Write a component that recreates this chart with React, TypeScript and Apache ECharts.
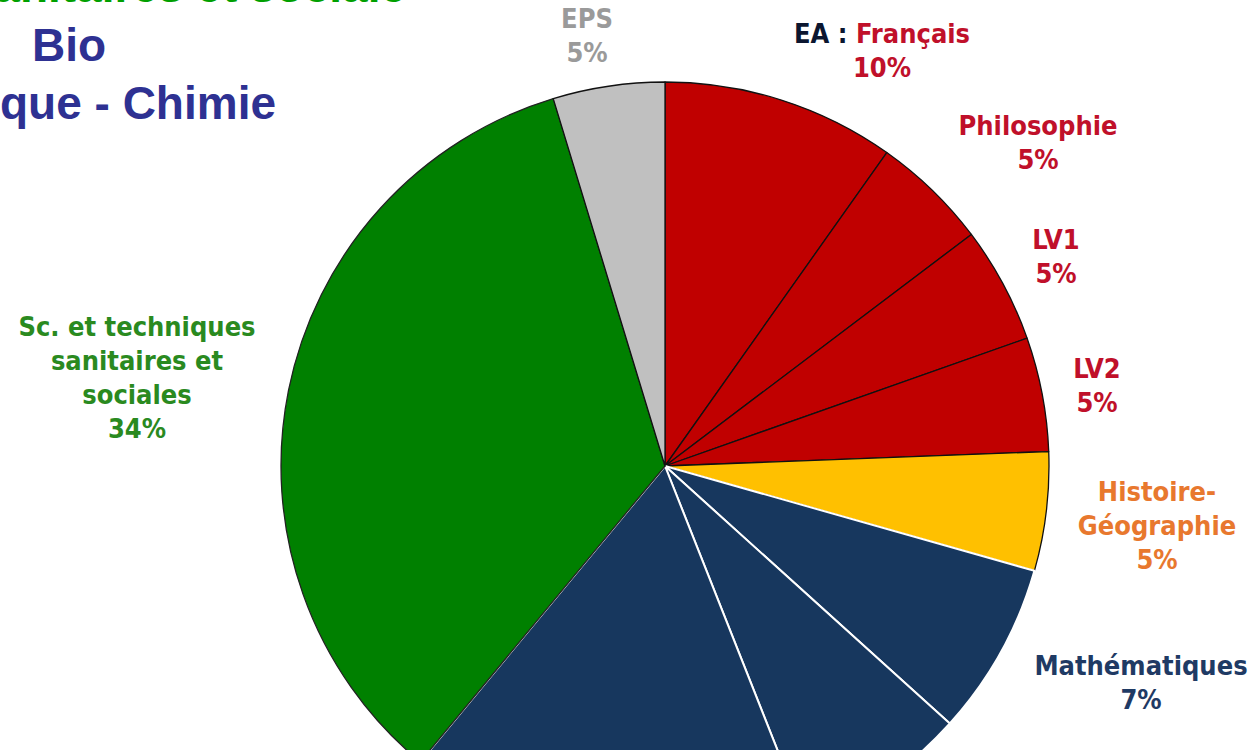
import React, { useEffect, useRef } from "react";
import * as echarts from "echarts";

// ---- data ----
const CATEGORIES = [
  "EA : Français",
  "Philosophie",
  "LV1",
  "LV2",
  "Histoire-Géographie",
  "Mathématiques",
  "Physique - Chimie",
  "Biologie et physiopathologie humaines",
  "Sc. et techniques sanitaires et sociales",
  "EPS",
];
const VALUES = [9.8, 4.9, 4.9, 4.8, 5.0, 7.3, 7.3, 17, 34.3, 4.7];
const LABEL_TEXTS = [
  "EA : Français",
  "Philosophie",
  "LV1",
  "LV2",
  "Histoire-\nGéographie",
  "Mathématiques",
  "",
  "",
  "Sc. et techniques\nsanitaires et\nsociales",
  "EPS",
];

// ---- styles ----
const RED = "#C00000";
const NAVY = "#17375E";
const SLICE_COLORS = [RED, RED, RED, RED, "#FFC000", NAVY, NAVY, NAVY, "#008000", "#C0C0C0"];
const BORDER_COLORS = ["#111", "#111", "#111", "#111", "#111", "#fff", "#fff", "#fff", "#222", "#111"];
const BORDER_WIDTHS = [1.3, 1.3, 1.3, 1.3, 1.3, 2, 2, 2, 1.3, 1.3];
const LABEL_COLORS = ["#C0102A", "#C0102A", "#C0102A", "#C0102A", "#E8782E", "#1F3A64", "#1F3A64", "#1F3A64", "#2A8A1F", "#9A9A9A"];
const LABEL_POS: [number, number][] = [
  [882, 50],
  [1038, 142],
  [1056, 256],
  [1097, 385],
  [1157, 525],
  [1141, 682],
  [0, 0],
  [0, 0],
  [137, 377],
  [587, 35],
];
const LABEL_FONT = '"DejaVu Sans Condensed", "DejaVu Sans", sans-serif';

export default function App() {
  const ref = useRef<HTMLDivElement>(null);
  useEffect(() => {
    if (!ref.current) return;
    const chart = echarts.init(ref.current, undefined, { renderer: "svg" });
    const data = CATEGORIES.map((name, i) => ({
      name,
      value: VALUES[i],
      itemStyle: {
        color: SLICE_COLORS[i],
        borderColor: BORDER_COLORS[i],
        borderWidth: BORDER_WIDTHS[i],
      },
      label: {
        show: LABEL_TEXTS[i] !== "",
        color: LABEL_COLORS[i],
      },
    }));
    chart.setOption({
      animation: false,
      backgroundColor: "#ffffff",
      graphic: [
        {
          type: "text",
          x: 406,
          y: -14,
          style: {
            text: "Sc. et techniques sanitaires et sociale",
            fill: "#00A000",
            fontSize: 46,
            fontWeight: "bold",
            fontFamily: '"Liberation Sans", Arial, sans-serif',
            align: "right",
            verticalAlign: "middle",
          },
        },
        {
          type: "text",
          x: 69,
          y: 45,
          style: {
            text: "Bio",
            fill: "#2E3192",
            fontSize: 46,
            fontWeight: "bold",
            fontFamily: '"Liberation Sans", Arial, sans-serif',
            align: "center",
            verticalAlign: "middle",
          },
        },
        {
          type: "text",
          x: 276,
          y: 103,
          style: {
            text: "Physique - Chimie",
            fill: "#2E3192",
            fontSize: 46,
            fontWeight: "bold",
            fontFamily: '"Liberation Sans", Arial, sans-serif',
            align: "right",
            verticalAlign: "middle",
          },
        },
      ],
      series: [
        {
          type: "pie",
          center: [665, 466],
          radius: 384,
          startAngle: 90,
          clockwise: true,
          data,
          label: {
            show: true,
            position: "outside",
            alignTo: "none",
            overflow: "none",
            fontFamily: LABEL_FONT,
            fontWeight: "bold",
            fontSize: 27,
            lineHeight: 34,
            align: "center",
            formatter: (p: any) => {
              const i = p.dataIndex;
              const pct = Math.round(p.percent) + "%";
              if (i === 0) {
                return "{k|EA :} Français\n" + pct;
              }
              return LABEL_TEXTS[i] + "\n" + pct;
            },
            rich: {
              k: {
                color: "#0B1630",
                fontFamily: LABEL_FONT,
                fontWeight: "bold",
                fontSize: 27,
                lineHeight: 34,
              },
            },
          },
          labelLine: { show: false },
          labelLayout: (params: any) => {
            const p = LABEL_POS[params.dataIndex];
            return { x: p[0], y: p[1], align: "center", verticalAlign: "middle" };
          },
          emphasis: { disabled: true },
        },
      ],
    });
    return () => chart.dispose();
  }, []);
  return (
    <div
      ref={ref}
      style={{ position: "absolute", left: 0, top: 0, width: 1256, height: 750, background: "#fff" }}
    />
  );
}
